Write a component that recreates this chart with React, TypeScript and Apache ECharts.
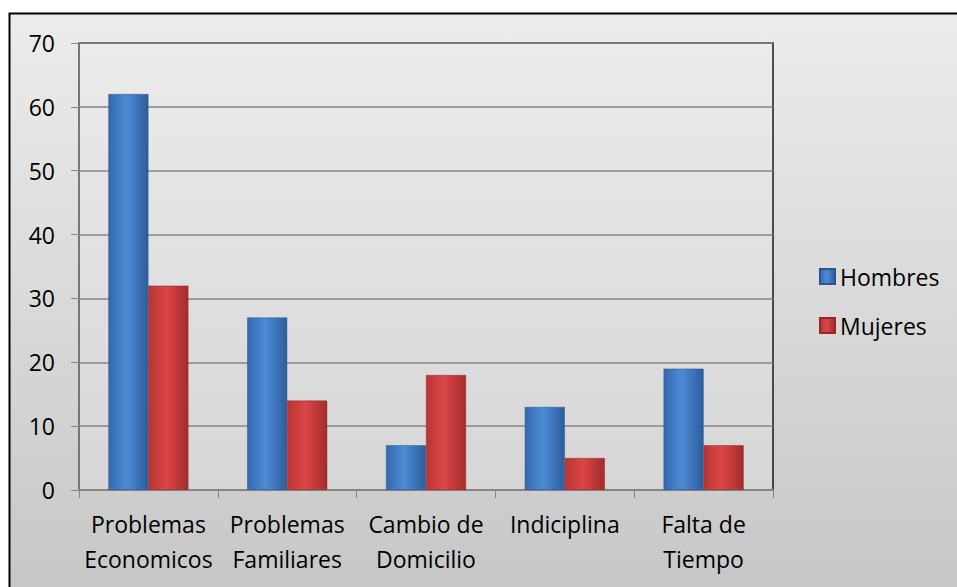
import React, { useEffect, useRef } from "react";
import * as echarts from "echarts";

const categories = [
  "Problemas\nEconomicos",
  "Problemas\nFamiliares",
  "Cambio de\nDomicilio",
  "Indiciplina",
  "Falta de\nTiempo",
];
const hombres = [62, 27, 7, 13, 19];
const mujeres = [32, 14, 18, 5, 7];
const seriesNames = ["Hombres", "Mujeres"];

const FONT = "'Open Sans', 'Liberation Sans', sans-serif";

function barFill(left: string, mid: string, right: string) {
  return new echarts.graphic.LinearGradient(0, 0, 1, 0, [
    { offset: 0, color: left },
    { offset: 0.45, color: mid },
    { offset: 1, color: right },
  ]);
}

export default function App() {
  const ref = useRef<HTMLDivElement>(null);

  useEffect(() => {
    if (!ref.current) return;
    const chart = echarts.init(ref.current, undefined, { renderer: "svg" });
    const blue = barFill("#3568ad", "#4c8bd6", "#2d5d9c");
    const red = barFill("#b83535", "#dc4646", "#a22c2c");
    chart.setOption({
      animation: false,
      backgroundColor: "#ffffff",
      graphic: [
        {
          type: "rect",
          z: -10,
          shape: { x: 9.5, y: 13.5, width: 960, height: 590 },
          style: {
            fill: new echarts.graphic.LinearGradient(0, 0, 0, 1, [
              { offset: 0, color: "#ececec" },
              { offset: 1, color: "#c6c6c6" },
            ]),
            stroke: "#000000",
            lineWidth: 2,
          },
        },
      ],
      grid: {
        left: 79,
        top: 43,
        width: 694,
        height: 447,
        show: true,
        borderColor: "#1a1a1a",
        borderWidth: 1.5,
        backgroundColor: new echarts.graphic.LinearGradient(0, 0, 0, 1, [
          { offset: 0, color: "#ebebeb" },
          { offset: 1, color: "#d6d6d6" },
        ]),
      },
      legend: {
        orient: "vertical",
        left: 814,
        top: 260,
        itemWidth: 15,
        itemHeight: 15,
        itemGap: 26,
        icon: "rect",
        textStyle: { fontFamily: FONT, fontSize: 23, color: "#000" },
        data: seriesNames,
      },
      xAxis: {
        type: "category",
        data: categories,
        axisLine: { lineStyle: { color: "#868686", width: 2 } },
        axisTick: { show: true, length: 8, lineStyle: { color: "#868686" } },
        axisLabel: {
          fontFamily: FONT,
          fontSize: 23,
          color: "#000",
          margin: 16,
          lineHeight: 35,
          interval: 0,
        },
      },
      yAxis: {
        type: "value",
        min: 0,
        max: 70,
        interval: 10,
        axisLine: { show: true, lineStyle: { color: "#868686", width: 1.5 } },
        axisTick: { show: true, length: 8, lineStyle: { color: "#868686" } },
        splitLine: { lineStyle: { color: "#868686", width: 1.5 } },
        axisLabel: {
          fontFamily: FONT,
          fontSize: 23,
          color: "#000",
          margin: 24,
        },
      },
      series: [
        {
          name: seriesNames[0],
          type: "bar",
          data: hombres,
          barWidth: 40,
          barGap: "0%",
          itemStyle: { color: blue, borderColor: "#2a5690", borderWidth: 0.5 },
        },
        {
          name: seriesNames[1],
          type: "bar",
          data: mujeres,
          barWidth: 40,
          barGap: "0%",
          itemStyle: { color: red, borderColor: "#962828", borderWidth: 0.5 },
        },
      ],
    });
    return () => chart.dispose();
  }, []);

  return (
    <div
      ref={ref}
      style={{ width: 957, height: 587, position: "absolute", left: 0, top: 0 }}
    />
  );
}
